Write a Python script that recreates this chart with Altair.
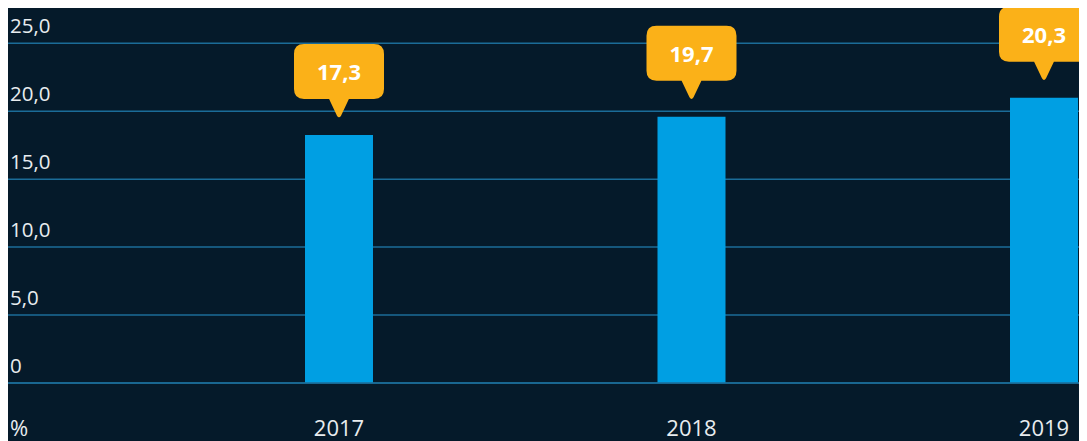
import altair as alt
import pandas as pd

years = [2017, 2018, 2019]
bar_values = [18.25, 19.6, 21.0]
label_texts = ["17,3", "19,7", "20,3"]
tick_values = [0, 5, 10, 15, 20, 25]
tick_labels = ["0", "5,0", "10,0", "15,0", "20,0", "25,0"]
unit_label = "%"

BG = "#051a2a"
GRID = "#1b6c98"
BAR = "#009fe3"
CALLOUT = "#fbb118"
TEXT = "#e8ecef"
FONT = "Open Sans"

# svg width must stay inside the 8px page margins
W, H = 1071, 375
BOTTOM = 58
PX_PER_UNIT = (H - 35.3) / 25
xscale = alt.Scale(domain=[2016.0610, 2019.0993], nice=False, zero=False, padding=0)
yscale = alt.Scale(domain=[0, H / PX_PER_UNIT], nice=False, padding=0)

bars_df = pd.DataFrame({"year": years, "value": bar_values, "label": label_texts})
ticks_df = pd.DataFrame({"v": tick_values, "lab": tick_labels})

base = alt.Chart(bars_df)

grid = alt.Chart(ticks_df).mark_rule(color=GRID, strokeWidth=1.5).encode(
    y=alt.Y("v:Q", scale=yscale, axis=None)
)
ylabels = alt.Chart(ticks_df).mark_text(
    align="left", baseline="alphabetic", dy=-10, font=FONT, fontSize=20.5, color=TEXT
).encode(x=alt.value(2), y=alt.Y("v:Q", scale=yscale, axis=None), text="lab:N")

bars = base.mark_bar(width=68, color=BAR).encode(
    x=alt.X("year:Q", scale=xscale, axis=None),
    y=alt.Y("value:Q", scale=yscale, axis=None),
)
zero_line = alt.Chart(ticks_df).transform_filter("datum.v == 0").mark_rule(
    color=GRID, strokeWidth=1.5
).encode(y=alt.Y("v:Q", scale=yscale, axis=None))

callout_path = (
    "M -0.778 -0.82 L 0.778 -0.82 Q 1 -0.82 1 -0.598 L 1 0.178 Q 1 0.4 0.778 0.4 "
    "L 0.22 0.4 L 0.045 0.77 Q 0 0.84 -0.045 0.77 L -0.22 0.4 L -0.778 0.4 "
    "Q -1 0.4 -1 0.178 L -1 -0.598 Q -1 -0.82 -0.778 -0.82 Z"
)
callouts = base.mark_point(
    shape=callout_path, size=8100, filled=True, fill=CALLOUT, opacity=1,
    strokeWidth=0, yOffset=-54
).encode(
    x=alt.X("year:Q", scale=xscale, axis=None),
    y=alt.Y("value:Q", scale=yscale, axis=None),
)
callout_text = base.mark_text(
    font=FONT, fontSize=22, fontWeight="bold", color="white",
    baseline="middle", align="center", dy=-62
).encode(
    x=alt.X("year:Q", scale=xscale, axis=None),
    y=alt.Y("value:Q", scale=yscale, axis=None),
    text="label:N",
)
xlabels = base.mark_text(
    font=FONT, fontSize=22, color=TEXT, baseline="alphabetic", align="center"
).encode(
    x=alt.X("year:Q", scale=xscale, axis=None),
    y=alt.value(H + 53),
    text=alt.Text("year:N"),
)
unit = alt.Chart(pd.DataFrame({"t": [unit_label]})).mark_text(
    font=FONT, fontSize=22, color=TEXT, baseline="alphabetic", align="left"
).encode(x=alt.value(2), y=alt.value(H + 53), text="t:N")

chart = alt.layer(
    grid, ylabels, bars, zero_line, callouts, callout_text, xlabels, unit
).properties(
    width=W, height=H,
    autosize=alt.AutoSizeParams(type="none"),
    padding={"left": 0, "top": 0, "right": 0, "bottom": BOTTOM},
    background=BG,
).configure_view(stroke=None)

chart.save("out.html", embed_options={"renderer": "svg", "actions": False})
